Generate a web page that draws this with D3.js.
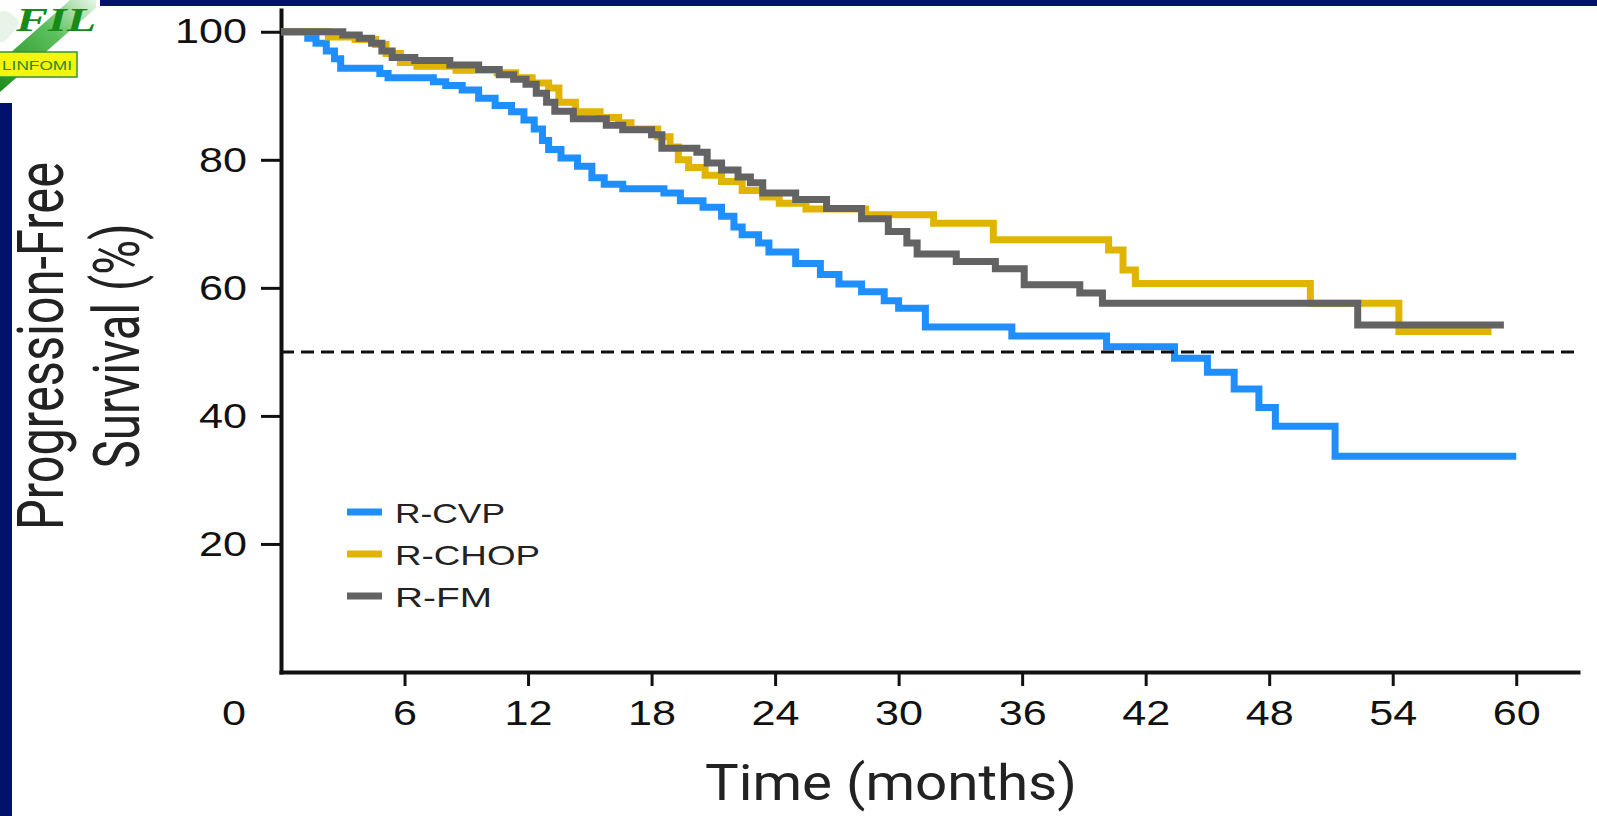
<!DOCTYPE html>
<html>
<head>
<meta charset="utf-8">
<script src="https://cdn.jsdelivr.net/npm/d3@7"></script>
<style>
body { margin:0; background:#fff; }
svg { display:block; }
</style>
</head>
<body>
<div id="plot"></div>
<script>
// data (months where the step happens, survival % after it)
var seriesNames = ['R-CVP', 'R-CHOP', 'R-FM'];
var seriesColors = ['#1f8fff', '#e0b400', '#636363'];

var cvpMonths = [0, 1.3, 1.7, 2.2, 2.6, 2.9, 4.8, 5.2, 7.4, 8.0, 8.8, 9.6, 10.4, 11.2, 11.8, 12.3, 12.7, 13.0, 13.6, 14.4, 15.1, 15.7, 16.6, 18.6, 19.4, 20.5, 21.4, 22.0, 22.4, 23.2, 23.7, 25.0, 26.2, 27.1, 28.2, 29.3, 30.0, 31.3, 35.5, 40.1, 43.4, 45.0, 46.3, 47.5, 48.3, 51.2, 60.0];
var cvpValues = [100, 99, 98.2, 97, 95.8, 94.3, 93.5, 92.8, 92.2, 91.6, 90.9, 89.6, 88.5, 87.5, 86.2, 84.8, 83, 81.6, 80.3, 79, 77.2, 76.2, 75.5, 74.8, 73.6, 72.6, 71.2, 69.5, 68.3, 67, 65.6, 63.8, 62.1, 60.6, 59.4, 58, 56.8, 53.9, 52.5, 50.8, 49, 46.8, 44.2, 41.3, 38.4, 33.7, 33.7];

var chopMonths = [0, 2.3, 3.6, 4.6, 5.1, 5.8, 6.6, 8.5, 10.5, 11.4, 12.2, 13.0, 13.5, 14.3, 15.5, 16.4, 17.0, 18.3, 18.9, 19.3, 19.8, 20.6, 21.4, 22.4, 23.4, 24.2, 25.5, 28.4, 31.7, 34.6, 40.2, 40.9, 41.5, 50.0, 54.3, 58.8];
var chopValues = [100, 99.2, 98.8, 98, 96.6, 95.2, 94.6, 94, 93.6, 92.8, 92, 91.2, 89, 87.5, 86.6, 85.8, 84.8, 83.6, 82, 80, 78.8, 77.6, 76.6, 75.2, 74.2, 73.2, 72.3, 71.4, 70.1, 67.5, 65.9, 62.8, 60.7, 57.6, 53.2, 53.2];

var fmMonths = [0, 3.0, 3.8, 4.4, 4.9, 5.4, 6.5, 8.2, 9.6, 10.6, 11.3, 11.9, 12.4, 12.9, 13.3, 14.2, 15.8, 16.6, 18.0, 18.5, 20.2, 20.7, 21.4, 22.2, 22.8, 23.4, 25.0, 26.5, 28.2, 29.5, 30.4, 30.9, 32.8, 34.7, 36.1, 38.8, 39.9, 52.3, 59.4];
var fmValues = [100, 99.5, 99, 98.2, 97, 96, 95.5, 94.8, 94.1, 93.3, 92.6, 91.8, 90.4, 89, 87.6, 86.4, 85.4, 84.7, 83.9, 81.8, 81.2, 79.5, 78.4, 77.3, 76.4, 74.8, 73.8, 72.4, 70.8, 68.8, 67, 65.3, 64.1, 63, 60.5, 59.2, 57.6, 54.2, 54.2];

var xTicks = [6, 12, 18, 24, 30, 36, 42, 48, 54, 60];
var yTicks = [20, 40, 60, 80, 100];
var medianLine = 50;

var width = 1597, height = 816;

var svg = d3.select('#plot')
	.append('svg')
	.attr('width', width)
	.attr('height', height);

svg.append('rect').attr('width', width).attr('height', height).attr('fill', '#fff');

// slide frame bits (navy bars + logo)
svg.append('rect').attr('x', 100).attr('y', 0).attr('width', width - 100).attr('height', 6).attr('fill', '#00126e');
svg.append('rect').attr('x', 0).attr('y', 103).attr('width', 12).attr('height', height - 103).attr('fill', '#00126e');

var logo = svg.append('g');
var grad = svg.append('defs').append('linearGradient').attr('id', 'lg')
	.attr('x1', 0).attr('y1', 1).attr('x2', 1).attr('y2', 0);
grad.append('stop').attr('offset', 0).attr('stop-color', '#1f8c1f');
grad.append('stop').attr('offset', 0.6).attr('stop-color', '#5cbf5c');
grad.append('stop').attr('offset', 1).attr('stop-color', '#e8f6e8');
logo.append('path').attr('d', 'M0,92 L0,62 L70,0 L96,0 L96,8 Z').attr('fill', 'url(#lg)');
logo.append('path').attr('d', 'M0,12 C8,8 14,16 20,22 C16,30 10,36 4,42 L0,42 Z').attr('fill', '#e9f4e9');
logo.append('text').attr('x', 16).attr('y', 31)
	.attr('font-family', 'Liberation Serif, serif').attr('font-style', 'italic').attr('font-weight', 'bold')
	.attr('font-size', 34).attr('fill', '#178a17')
	.attr('textLength', 80).attr('lengthAdjust', 'spacingAndGlyphs')
	.text('FIL');
logo.append('rect').attr('x', -2).attr('y', 52).attr('width', 79).attr('height', 25)
	.attr('fill', '#f4f40c').attr('stroke', '#2b9a2b').attr('stroke-width', 1.5);
logo.append('text').attr('x', 37).attr('y', 70).attr('text-anchor', 'middle')
	.attr('font-family', 'Liberation Sans, Arial, sans-serif').attr('font-size', 13).attr('fill', '#2a8a2a')
	.attr('textLength', 70).attr('lengthAdjust', 'spacingAndGlyphs')
	.text('LINFOMI');

// scales
var x = d3.scaleLinear().domain([0, 63]).range([281, 1578]);
var y = d3.scaleLinear().domain([0, 103.4]).range([672, 10]);

var plot = svg.append('g').attr('class', 'plot');

// axes
var xAxis = d3.axisBottom(x).tickValues(xTicks).tickSize(14).tickSizeOuter(0).tickPadding(14);
var yAxis = d3.axisLeft(y).tickValues(yTicks).tickSize(20).tickSizeOuter(0).tickPadding(14);

var gx = plot.append('g').attr('transform', 'translate(0,' + y(0) + ')').call(xAxis);
var gy = plot.append('g').attr('transform', 'translate(' + x(0) + ',0)').call(yAxis);

[gx, gy].forEach(function(g){
	g.select('.domain').attr('stroke', '#111').attr('stroke-width', 4).attr('stroke-linecap', 'square');
	g.selectAll('.tick line').attr('stroke', '#111').attr('stroke-width', 3);
	g.selectAll('.tick text')
		.attr('fill', '#111')
		.attr('font-family', 'Liberation Sans, Arial, sans-serif')
		.attr('font-size', 35)
		.each(function(d){
			d3.select(this).attr('textLength', String(d).length * 24).attr('lengthAdjust', 'spacingAndGlyphs');
		});
});

// the lone origin label, sitting left of the axis
plot.append('text')
	.attr('x', x(0) - 47).attr('y', y(0) + 28).attr('dy', '0.71em')
	.attr('text-anchor', 'middle')
	.attr('fill', '#111')
	.attr('font-family', 'Liberation Sans, Arial, sans-serif')
	.attr('font-size', 35)
	.attr('textLength', 24).attr('lengthAdjust', 'spacingAndGlyphs')
	.text('0');

// curves
var line = d3.line()
	.x(function(d){ return x(d[0]); })
	.y(function(d){ return y(d[1]); })
	.curve(d3.curveStepAfter);

var series = [
	d3.zip(cvpMonths, cvpValues),
	d3.zip(chopMonths, chopValues),
	d3.zip(fmMonths, fmValues)
];

series.forEach(function(s, i){
	plot.append('path')
		.datum(s)
		.attr('d', line)
		.attr('fill', 'none')
		.attr('stroke', seriesColors[i])
		.attr('stroke-width', 7);
});

// 50% reference
plot.append('line')
	.attr('x1', x(0)).attr('x2', x(x.domain()[1]))
	.attr('y1', y(medianLine)).attr('y2', y(medianLine))
	.attr('stroke', '#111')
	.attr('stroke-width', 3)
	.attr('stroke-dasharray', '13,7');

// legend
var legend = plot.append('g');
var legendWidths = [110, 145, 97];
seriesNames.forEach(function(name, i){
	var ly = 512 + i * 42;
	legend.append('line')
		.attr('x1', 347).attr('x2', 382)
		.attr('y1', ly).attr('y2', ly)
		.attr('stroke', seriesColors[i])
		.attr('stroke-width', 7);
	legend.append('text')
		.attr('x', 395).attr('y', ly + 11)
		.attr('fill', '#222')
		.attr('font-family', 'Liberation Sans, Arial, sans-serif')
		.attr('font-size', 28)
		.attr('textLength', legendWidths[i]).attr('lengthAdjust', 'spacingAndGlyphs')
		.text(name);
});

// axis titles
plot.append('text')
	.attr('x', 891).attr('y', 800)
	.attr('text-anchor', 'middle')
	.attr('fill', '#222')
	.attr('font-family', 'Roboto, Liberation Sans, sans-serif')
	.attr('font-size', 50)
	.attr('textLength', 372).attr('lengthAdjust', 'spacingAndGlyphs')
	.text('Time (months)');

var yTitle = plot.append('g').attr('transform', 'translate(0,346) rotate(-90)');
yTitle.append('text')
	.attr('x', 0).attr('y', 63)
	.attr('text-anchor', 'middle')
	.attr('fill', '#222')
	.attr('font-family', 'Liberation Sans Narrow, Roboto, sans-serif')
	.attr('font-size', 64)
	.attr('textLength', 368).attr('lengthAdjust', 'spacingAndGlyphs')
	.text('Progression-Free');
yTitle.append('text')
	.attr('x', 0).attr('y', 139)
	.attr('text-anchor', 'middle')
	.attr('fill', '#222')
	.attr('font-family', 'Liberation Sans Narrow, Roboto, sans-serif')
	.attr('font-size', 64)
	.attr('textLength', 245).attr('lengthAdjust', 'spacingAndGlyphs')
	.text('Survival (%)');
</script>
</body>
</html>
